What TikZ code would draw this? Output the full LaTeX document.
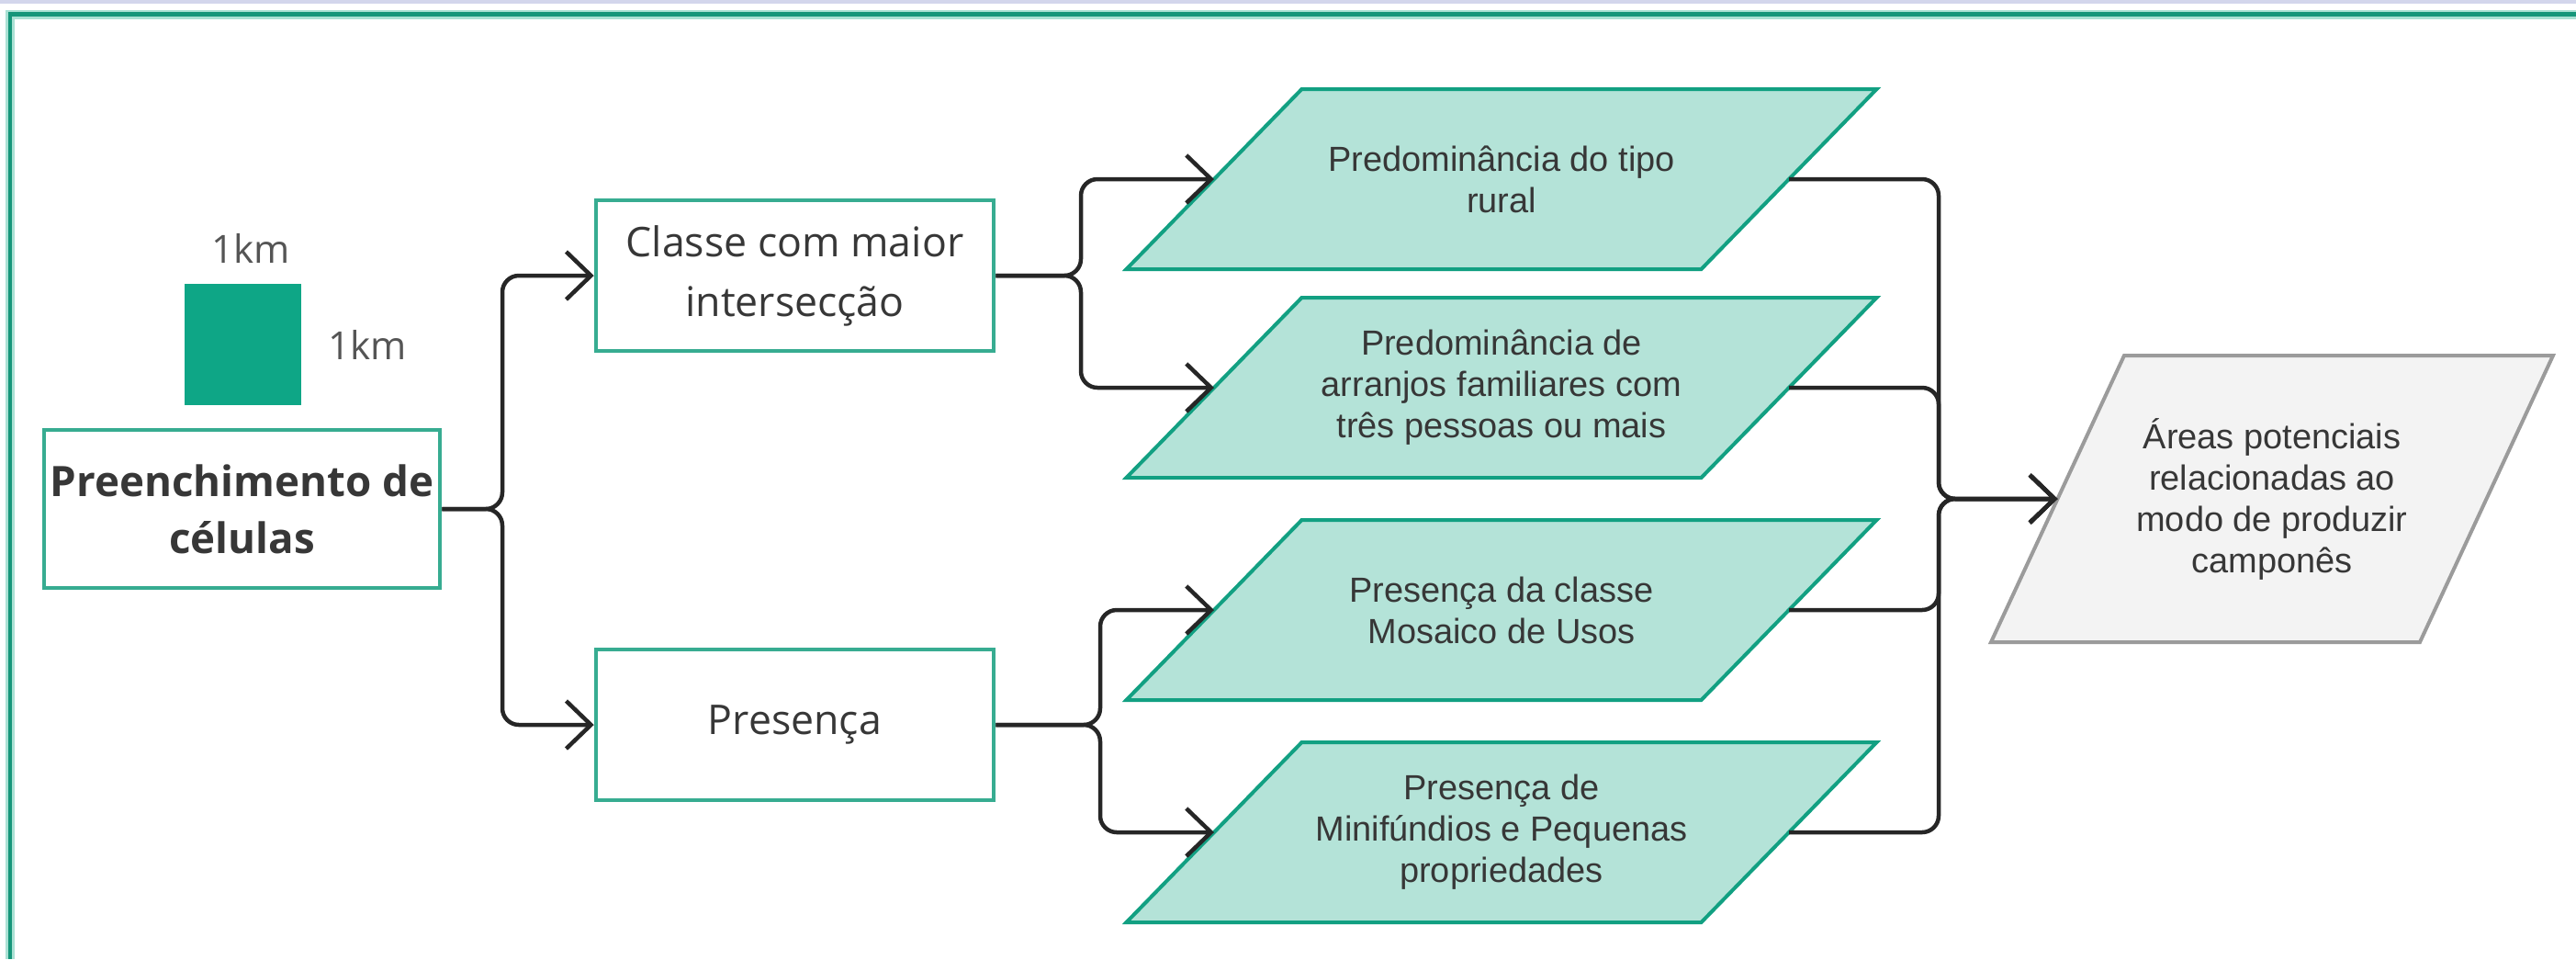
\documentclass[tikz,border=0pt]{standalone}
\usepackage{fontspec}
\usepackage{tikz}
\usepackage{xcolor}
\usetikzlibrary{arrows.meta, backgrounds, positioning}

\setmainfont{Open Sans}
\newfontfamily\arialfont{Liberation Sans}

\definecolor{tealline}{RGB}{18,160,130}
\definecolor{tealbox}{RGB}{55,172,145}
\definecolor{mint}{RGB}{180,227,216}
\definecolor{cellgreen}{RGB}{14,166,134}
\definecolor{greyfill}{RGB}{243,243,243}
\definecolor{greyline}{RGB}{155,155,155}
\definecolor{lavender}{RGB}{211,214,236}
\definecolor{framehalo}{RGB}{170,225,212}
\definecolor{framedark}{RGB}{22,150,122}
\definecolor{txt}{RGB}{55,55,55}
\definecolor{wirecol}{RGB}{38,38,38}

\tikzset{
    box/.style={draw=tealbox, line width=0.45mm, fill=white, minimum width=4.33cm, minimum height=1.64cm, align=center, text=txt, font=\fontsize{12.7}{18.5}\selectfont, inner sep=0pt},
    lean/.style 2 args={rectangle, inner sep=0pt, outer sep=0pt, align=center, text=txt, font=\arialfont\fontsize{10.8}{12.8}\selectfont,
        append after command={\pgfextra{\begin{pgfonlayer}{background}
            \draw[#2] ([xshift=#1]\tikzlastnode.north west) -- ([xshift=#1]\tikzlastnode.north east)
                -- ([xshift=-#1]\tikzlastnode.south east) -- ([xshift=-#1]\tikzlastnode.south west) -- cycle;
        \end{pgfonlayer}}}},
    data/.style={lean={0.955cm}{draw=tealline, line width=0.4mm, fill=mint}, minimum width=6.26cm, minimum height=1.96cm},
    result/.style={lean={0.725cm}{draw=greyline, line width=0.4mm, fill=greyfill}, minimum width=4.67cm, minimum height=3.12cm},
    kmlabel/.style={text=txt!85, font=\fontsize{12}{14}\selectfont, inner sep=0pt},
    wire/.style={draw=wirecol, line width=0.45mm, rounded corners=0.18cm},
    arr/.style={wire, -{Straight Barb[length=2.7mm, width=5.2mm]}},
}

\begin{document}
\begin{tikzpicture}
                    \useasboundingbox (0,0) rectangle (28.05,-10.44);
                    \fill[lavender] (0,0) rectangle (28.05,-0.04);
                    \draw[framehalo, line width=1mm] (0.11,-10.44) -- (0.11,-0.155) -- (28.05,-0.155);
                    \draw[framedark, line width=0.45mm] (0.11,-10.44) -- (0.11,-0.155) -- (28.05,-0.155);

                    \node[fill=cellgreen, minimum width=1.27cm, minimum height=1.32cm, inner sep=0pt] (cell) at (2.645,-3.745) {};
                    \node[kmlabel] (kmtop) at (2.73,-2.70) {1km};
                    \node[kmlabel] (kmside) at (4.00,-3.75) {1km};
                    \node[box, minimum width=4.31cm, minimum height=1.72cm, font=\bfseries\fontsize{13}{17.6}\selectfont] (cells) at (2.635,-5.54) {Preenchimento de\\células};

                    \node[box] (classe) at (8.655,-3.00) {Classe com maior\\intersecção};
                    \node[box] (presenca) at (8.655,-7.89) {Presença};

                    \node[data] (p1) at (16.35,-1.95) {Predominância do tipo\\rural};
                    \node[data] (p2) at (16.35,-4.22) {Predominância de\\arranjos familiares com\\três pessoas ou mais};
                    \node[data] (p3) at (16.35,-6.64) {Presença da classe\\Mosaico de Usos};
                    \node[data] (p4) at (16.35,-9.06) {Presença de\\Minifúndios e Pequenas\\propriedades};
                    \node[result] (out) at (24.74,-5.43) {Áreas potenciais\\relacionadas ao\\modo de produzir\\camponês};

                    \coordinate (j1) at (5.47,-5.54);
                    \coordinate (j2) at (11.77,-3.00);
                    \coordinate (j3) at (11.98,-7.89);
                    \coordinate (j4) at (21.11,-5.43);

                    \draw[arr] (cells.east) -- (j1) |- (classe.west);
                    \draw[arr] (cells.east) -- (j1) |- (presenca.west);
                    \draw[arr] (classe.east) -- (j2) |- (p1.west);
                    \draw[arr] (classe.east) -- (j2) |- (p2.west);
                    \draw[arr] (presenca.east) -- (j3) |- (p3.west);
                    \draw[arr] (presenca.east) -- (j3) |- (p4.west);
                    \foreach \p in {p1, p2, p3, p4}
                        \draw[arr] (\p.east) -| (j4) -- (out.west);
                \end{tikzpicture}
\end{document}
